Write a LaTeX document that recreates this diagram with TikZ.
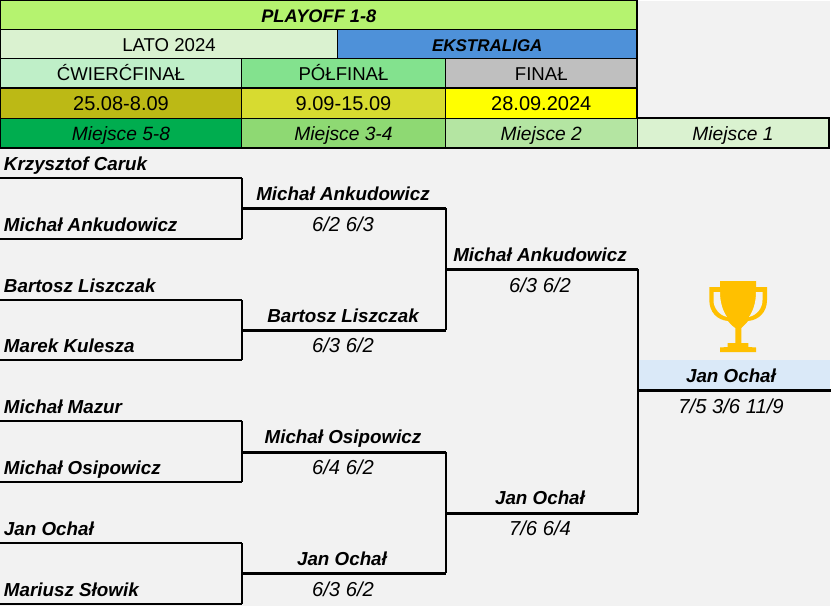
\documentclass[tikz,border=0pt]{standalone}
\usepackage{fontspec}
\setmainfont{Liberation Sans}
\definecolor{bgc}{HTML}{F2F2F2}
\definecolor{topg}{HTML}{B5F36F}
\definecolor{pale}{HTML}{DAF2D0}
\definecolor{blueh}{HTML}{4E91D9}
\definecolor{qf}{HTML}{BFEFC8}
\definecolor{sf}{HTML}{83E28E}
\definecolor{fn}{HTML}{BFBFBF}
\definecolor{d1}{HTML}{BCB915}
\definecolor{d2}{HTML}{D7DB30}
\definecolor{d3}{HTML}{FFFF00}
\definecolor{p1}{HTML}{00AD4F}
\definecolor{p2}{HTML}{8ED973}
\definecolor{p3}{HTML}{B4E5A2}
\definecolor{winb}{HTML}{DAE9F8}
\definecolor{cupc}{HTML}{FFC000}
\tikzset{
  x=1pt,y=-1pt,
  cell/.style={draw=black,line width=1pt,inner sep=0pt,outer sep=0pt,anchor=north west,text=black,text height=15pt,text depth=0pt,font=\fontsize{18.6}{22}\selectfont},
  celln/.style={cell,font=\fontsize{20}{22}\selectfont},
  cellb/.style={cell,font=\fontsize{18.2}{22}\selectfont\bfseries\itshape},
  cellbs/.style={cell,font=\fontsize{17}{22}\selectfont\bfseries\itshape},
  celli/.style={cell,font=\fontsize{19.2}{22}\selectfont\itshape},
  nm/.style={inner sep=0pt,outer sep=0pt,text height=13pt,text depth=0pt,font=\fontsize{18.8}{22}\selectfont\bfseries\itshape},
  sc/.style={inner sep=0pt,outer sep=0pt,text height=13pt,text depth=0pt,font=\fontsize{20.2}{22}\selectfont\itshape},
  thin line/.style={line width=1.2pt},
  round1 line/.style={line width=2pt},
  thick line/.style={line width=3pt},
  frame line/.style={line width=2pt},
}
\newcommand{\cellat}[8]{\node[#1,fill=#2,minimum width=#5-#3,minimum height=#6-#4] (#7) at (#3,#4) {#8};}
\begin{document}
\begin{tikzpicture}
\useasboundingbox (0,0) rectangle (831,606);
\fill[white] (0,0) rectangle (831,606);
\fill[bgc] (0,1) rectangle (830,606);
% header cells
\cellat{cellb}{topg}{0.5}{0.5}{637}{29}{h1}{PLAYOFF 1-8}
\cellat{cell}{pale}{0.5}{29}{337.5}{58.5}{h2a}{LATO 2024}
\cellat{cellbs}{blueh}{337.5}{29}{637}{58.5}{h2b}{EKSTRALIGA}
\cellat{cell}{qf}{0.5}{58.5}{241.5}{88}{h3a}{ĆWIERĆFINAŁ}
\cellat{cell}{sf}{241.5}{58.5}{445.5}{88}{h3b}{PÓŁFINAŁ}
\cellat{cell}{fn}{445.5}{58.5}{637}{88}{h3c}{FINAŁ}
\cellat{celln}{d1}{0.5}{88}{241.5}{118}{h4a}{25.08-8.09}
\cellat{celln}{d2}{241.5}{88}{445.5}{118}{h4b}{9.09-15.09}
\cellat{celln}{d3}{445.5}{88}{637}{118}{h4c}{28.09.2024}
\cellat{celli}{p1}{0.5}{118}{241.5}{148}{h5a}{Miejsce 5-8}
\cellat{celli}{p2}{241.5}{118}{445.5}{148}{h5b}{Miejsce 3-4}
\cellat{celli}{p3}{445.5}{118}{637}{148}{h5c}{Miejsce 2}
\cellat{celli}{pale}{637}{118}{829}{148}{h5d}{Miejsce 1}
\draw[frame line] (637,0) -- (637,118);
\draw[frame line] (0,88) -- (637,88);
\draw[frame line] (637,118) -- (829,118) -- (829,148) -- (0,148);
% winner fill
\fill[winb] (638,360) rectangle (830,390);
% first-round names
\node[nm,anchor=west] (a1) at (4,164) {Krzysztof Caruk};
\node[nm,anchor=west] (a2) at (4,225) {Michał Ankudowicz};
\node[nm,anchor=west] (a3) at (4,286) {Bartosz Liszczak};
\node[nm,anchor=west] (a4) at (4,346) {Marek Kulesza};
\node[nm,anchor=west] (a5) at (4,407) {Michał Mazur};
\node[nm,anchor=west] (a6) at (4,468) {Michał Osipowicz};
\node[nm,anchor=west] (a7) at (4,529) {Jan Ochał};
\node[nm,anchor=west] (a8) at (4,590) {Mariusz Słowik};
% second round
\node[nm] (b1) at (343,194) {Michał Ankudowicz};
\node[sc] (s1) at (343,225) {6/2 6/3};
\node[nm] (b2) at (343,316) {Bartosz Liszczak};
\node[sc] (s2) at (343,346) {6/3 6/2};
\node[nm] (b3) at (343,437) {Michał Osipowicz};
\node[sc] (s3) at (343,468) {6/4 6/2};
\node[nm] (b4) at (342,559) {Jan Ochał};
\node[sc] (s4) at (343,590) {6/3 6/2};
% third round
\node[nm] (c1) at (540,255) {Michał Ankudowicz};
\node[sc] (s5) at (540,286) {6/3 6/2};
\node[nm] (c2) at (540,498) {Jan Ochał};
\node[sc] (s6) at (540,529) {7/6 6/4};
% final
\node[nm] (w) at (731,376) {Jan Ochał};
\node[sc] (s7) at (731,407) {7/5 3/6 11/9};
% bracket coordinates
\foreach \n/\xx/\yy in {t1/0/178,t2/0/239,t3/0/300,t4/0/360,t5/0/421,t6/0/482,t7/0/543,t8/0/604,
  u1/242/208,u2/242/330,u3/242/452,u4/242/573,v1/446/269,v2/446/513,w1/638/390,
  ue1/446/208,ue2/446/330,ue3/446/452,ue4/446/573,ve1/638/269,ve2/638/513,we/831/390}
  \coordinate (\n) at (\xx,\yy);
\draw[round1 line] (t1) -- +(242,0);
\draw[round1 line] (t2) -- +(242,0);
\draw[thin line] (u1 |- t1) -- (u1 |- t2);
\draw[round1 line] (t3) -- +(242,0);
\draw[round1 line] (t4) -- +(242,0);
\draw[thin line] (u2 |- t3) -- (u2 |- t4);
\draw[round1 line] (t5) -- +(242,0);
\draw[round1 line] (t6) -- +(242,0);
\draw[thin line] (u3 |- t5) -- (u3 |- t6);
\draw[round1 line] (t7) -- +(242,0);
\draw[round1 line] (t8) -- +(242,0);
\draw[thin line] (u4 |- t7) -- (u4 |- t8);
\draw[thick line] (u1) -- (ue1);
\draw[thick line] (u2) -- (ue2);
\draw[thick line] (u3) -- (ue3);
\draw[thick line] (u4) -- (ue4);
\draw[thin line] (ue1) -- (ue2);
\draw[thin line] (ue3) -- (ue4);
\draw[thick line] (v1) -- (ve1);
\draw[thick line] (v2) -- (ve2);
\draw[thin line] (ve1) -- (ve2);
\draw[thick line] (w1) -- (we);
% trophy
\fill[cupc] (720,281) -- (756,281) -- (756,287) -- (767,287) -- (767,300)
  .. controls (767,312) and (759,320) .. (748,321)
  .. controls (745,325) and (742,327) .. (741.3,328) -- (741.3,343) -- (748.3,343) -- (748.3,347) -- (756,347.5) -- (756,352) -- (720,352) -- (720,347.5) -- (727.7,347) -- (727.7,343) -- (735.3,343) -- (735.3,328)
  .. controls (734,327) and (731,325) .. (728,321)
  .. controls (717,320) and (709.3,312) .. (709.3,300) -- (709.3,287) -- (720,287) -- cycle;
\fill[bgc] (713.5,292) -- (720,292) .. controls (720,303) and (723,311) .. (727,317) .. controls (719,315) and (713.5,308) .. (713.5,300) -- cycle;
\fill[bgc] (762.5,292) -- (756,292) .. controls (756,303) and (753,311) .. (749,317) .. controls (757,315) and (762.5,308) .. (762.5,300) -- cycle;
\end{tikzpicture}
\end{document}
